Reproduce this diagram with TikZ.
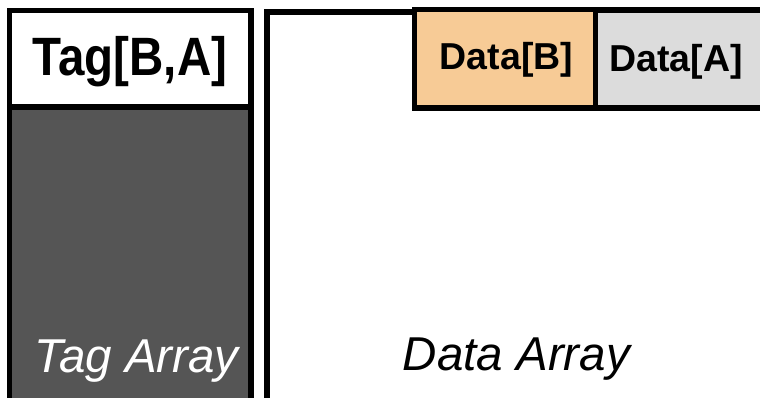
\documentclass[tikz,border=0pt]{standalone}
\usepackage{fontspec}
\setmainfont{Liberation Sans}
\definecolor{tagfill}{RGB}{85,85,85}
\definecolor{datab}{RGB}{247,203,150}
\definecolor{dataa}{RGB}{220,220,220}
\tikzset{
  keylabel/.style={anchor=base,inner sep=0pt,font=\bfseries\fontsize{37.5}{40}\selectfont},
  arraylabel/.style={anchor=base,inner sep=0pt,font=\itshape\fontsize{47.5}{50}\selectfont},
}

\begin{document}
\begin{tikzpicture}[x=1pt,y=-1pt,line width=5.5pt]
\useasboundingbox (0,0) rectangle (760,398);
% tag array
\fill [tagfill] (9.5,107) rectangle (251,440);
\draw (9.5,440) -- (9.5,10.5) -- (251,10.5) -- (251,440);
\draw (9.5,107) -- (251,107);
% data array
\draw (267,440) -- (267,12) -- (800,12);
\draw (267,401) -- (800,401);
\draw [fill=dataa] (595.5,10) rectangle (800,108);
\draw [fill=datab] (414.5,9.5) rectangle (595.5,108);

\path (130,76) node (tagkey) [keylabel,xscale=0.88,font=\bfseries\fontsize{54}{58}\selectfont] {Tag[B,A]};
\path (506.5,69.5) node (datakeyb) [keylabel] {Data[B]};
\path (676,71.5) node (datakeya) [keylabel] {Data[A]};
\path (136.5,372) node (tagarray) [arraylabel,text=white] {Tag Array};
\path (516.5,370) node (dataarray) [arraylabel] {Data Array};
\end{tikzpicture}
\end{document}
